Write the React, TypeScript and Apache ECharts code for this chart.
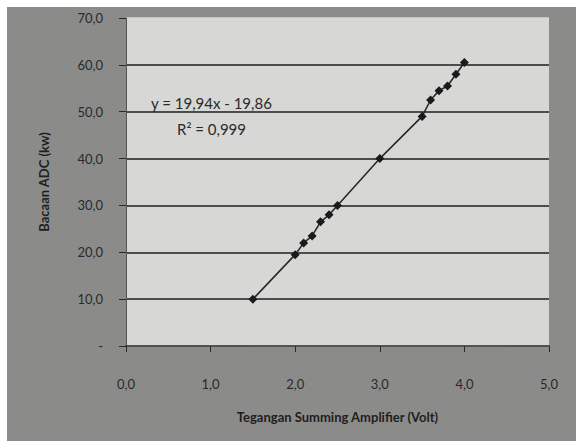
import React, { useEffect, useRef } from "react";
import * as echarts from "echarts";

const voltage = [1.5, 2.0, 2.1, 2.2, 2.3, 2.4, 2.5, 3.0, 3.5, 3.6, 3.7, 3.8, 3.9, 4.0];
const adcReading = [10.0, 19.5, 22.0, 23.5, 26.5, 28.0, 30.0, 40.0, 49.0, 52.5, 54.5, 55.5, 58.0, 60.5];
const equationText = "y = 19,94x - 19,86";
const r2Text = "R² = 0,999";
const xTitle = "Tegangan Summing Amplifier (Volt)";
const yTitle = "Bacaan ADC (kw)";

const fmt = (v: number) => v.toFixed(1).replace(".", ",");

export default function App() {
  const ref = useRef<HTMLDivElement>(null);
  useEffect(() => {
    if (!ref.current) return;
    const chart = echarts.init(ref.current, undefined, { renderer: "svg" });
    const font = "Lato, 'Open Sans', sans-serif";
    chart.setOption({
      animation: false,
      backgroundColor: "#ffffff",
      textStyle: { fontFamily: font },
      graphic: [
        {
          type: "rect",
          z: -10,
          shape: { x: 7, y: 7, width: 569, height: 434 },
          style: { fill: "#8b8c89" },
          silent: true,
        },
        {
          type: "text",
          x: 151,
          y: 95,
          z: 10,
          style: { text: equationText, fill: "#2a2a2a", font: `15px ${font}` },
        },
        {
          type: "text",
          x: 177,
          y: 121,
          z: 10,
          style: { text: r2Text, fill: "#2a2a2a", font: `15px ${font}` },
        },
      ],
      grid: {
        left: 126,
        right: 27,
        top: 18,
        bottom: 97,
        show: true,
        backgroundColor: "#d7d8d5",
        borderWidth: 0,
      },
      xAxis: {
        type: "value",
        min: 0,
        max: 5,
        interval: 1,
        name: xTitle,
        nameLocation: "middle",
        nameGap: 64,
        nameTextStyle: { color: "#1e1e1e", fontSize: 13, fontWeight: "bold", fontFamily: font },
        axisLine: { show: true, lineStyle: { color: "#2a2a2a", width: 1.5 } },
        axisTick: { show: true, length: 6, lineStyle: { color: "#2a2a2a" } },
        axisLabel: { formatter: (v: number) => fmt(v), margin: 31, fontSize: 13, color: "#2a2a2a", fontFamily: font },
        splitLine: { show: false },
      },
      yAxis: {
        type: "value",
        min: 0,
        max: 70,
        interval: 10,
        name: yTitle,
        nameLocation: "middle",
        nameGap: 76,
        nameTextStyle: { color: "#1e1e1e", fontSize: 13, fontWeight: "bold", fontFamily: font },
        axisLine: { show: true, lineStyle: { color: "#555555", width: 1 } },
        axisTick: { show: true, length: 7, lineStyle: { color: "#2a2a2a" } },
        axisLabel: {
          formatter: (v: number) => (v === 0 ? "-" : fmt(v)),
          margin: 23,
          fontSize: 13,
          color: "#2a2a2a",
          fontFamily: font,
        },
        splitLine: {
          show: true,
          lineStyle: {
            color: ["#d7d8d5", "#1e1e1e", "#1e1e1e", "#1e1e1e", "#1e1e1e", "#1e1e1e", "#1e1e1e", "#d7d8d5"],
            width: 1.6,
          },
        },
      },
      series: [
        {
          type: "line",
          data: voltage.map((x, i) => [x, adcReading[i]]),
          symbol: "diamond",
          symbolSize: 9,
          showSymbol: true,
          lineStyle: { color: "#2a2a2a", width: 1.6 },
          itemStyle: { color: "#1a1a1a" },
          z: 5,
        },
      ],
    });
    return () => chart.dispose();
  }, []);
  return (
    <div
      ref={ref}
      style={{ position: "fixed", left: 0, top: 0, width: 576, height: 443 }}
    />
  );
}
